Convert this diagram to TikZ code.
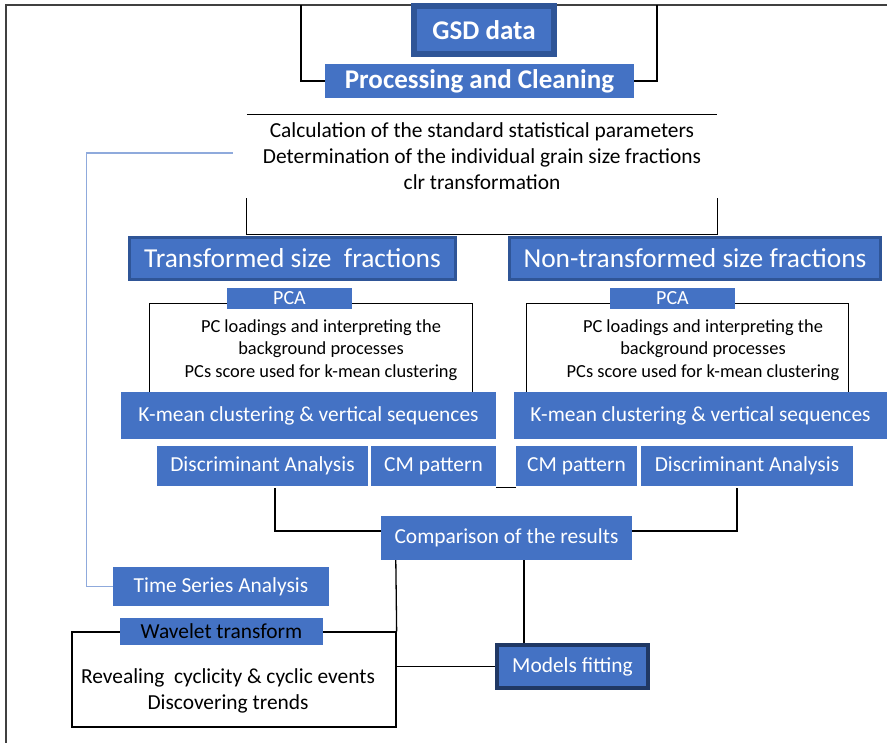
\documentclass[tikz,border=0pt]{standalone}
\usepackage{fontspec}
\setmainfont{Carlito}
\usetikzlibrary{calc}

\definecolor{boxblue}{RGB}{68,114,196}
\definecolor{boxdark}{RGB}{47,85,151}
\definecolor{navy}{RGB}{32,56,100}
\definecolor{paleblue}{RGB}{143,170,220}

\begin{document}
\begin{tikzpicture}[x=1pt,y=-1pt,
    bluebox/.style={fill=boxblue, text=white, inner sep=0pt,
      font=\fontsize{21.4}{25}\selectfont},
    edgebox/.style={bluebox, draw=boxdark, line width=#1},
    plain/.style={align=center, inner sep=0pt, font=\fontsize{21.4}{26}\selectfont},
    small/.style={align=center, inner sep=0pt, font=\fontsize{18.4}{22.5}\selectfont},
    link/.style={line width=1.3pt},
    palelink/.style={line width=1.1pt, draw=paleblue}]
\useasboundingbox (0,0) rectangle (887,743);

% page frame
\draw [line width=2pt, black!75] (6,743) -- (6,5) -- (887,5);
\coordinate (topL) at (301,5);
\coordinate (topR) at (657,5);

% wavelet frame
\node [draw, link, minimum width=324, minimum height=95] (wbox) at (234,679.5) {};
\node [plain] (wtxt) at (228,690.5) {Revealing~ cyclicity \& cyclic events\\Discovering trends};

% top part
\node [edgebox=6pt, minimum width=140, minimum height=48,
       font=\bfseries\fontsize{27}{30}\selectfont] (gsd) at (484,30) {GSD data};
\node [bluebox, minimum width=309, minimum height=34,
       font=\bfseries\fontsize{27}{30}\selectfont] (proc) at (479.5,81) {Processing and Cleaning};
\node [plain, minimum width=470, minimum height=83] (steps) at (482,156.5)
  {Calculation of the standard statistical parameters\\
   Determination of the individual grain size fractions\\
   clr transformation};

% two branches
\node [edgebox=3pt, minimum width=326, minimum height=42,
       font=\fontsize{27.4}{30}\selectfont] (tsf) at (292.5,258.5) {Transformed size~ fractions};
\node [edgebox=3pt, minimum width=371, minimum height=42,
       font=\fontsize{27.4}{30}\selectfont] (ntsf) at (695,258.5) {Non-transformed size fractions};

\node [bluebox, minimum width=125, minimum height=21, font=\fontsize{20}{22}\selectfont]
  (pcaL) at (289.5,298.5) {PCA};
\node [bluebox, minimum width=125, minimum height=21, font=\fontsize{20}{22}\selectfont]
  (pcaR) at (672.5,298.5) {PCA};
\node [small] (pcL) at (321,350) {PC loadings and interpreting the\\background processes\\PCs score used for k-mean clustering};
\node [small] (pcR) at (703,350) {PC loadings and interpreting the\\background processes\\PCs score used for k-mean clustering};

\node [bluebox, minimum width=375, minimum height=47] (kmL) at (308.5,415.5) {K-mean clustering \& vertical sequences};
\node [bluebox, minimum width=373, minimum height=47] (kmR) at (700.5,415.5) {K-mean clustering \& vertical sequences};

\node [bluebox, minimum width=211, minimum height=40] (daL) at (262.5,466) {Discriminant Analysis};
\node [bluebox, minimum width=125, minimum height=40] (cmL) at (433.5,466) {CM pattern};
\node [bluebox, minimum width=121, minimum height=40] (cmR) at (576.5,466) {CM pattern};
\node [bluebox, minimum width=212, minimum height=40] (daR) at (747,466) {Discriminant Analysis};

% lower part
\node [bluebox, minimum width=251, minimum height=44] (comp) at (506.5,538) {Comparison of the results};
\node [bluebox, minimum width=216, minimum height=39] (tsa) at (221,586.5) {Time Series Analysis};
\node [bluebox, text=black, minimum width=203, minimum height=27] (wav) at (221.5,631.5) {Wavelet transform};
\node [edgebox=4pt, draw=navy, minimum width=151, minimum height=43] (mf) at (572.5,666.5) {Models fitting};

% connectors
\draw [link] (proc.west) -| (topL);
\draw [link] (proc.east) -| (topR);
\draw [link] (steps.north west) -- (steps.north east);
\draw [link] (steps.south west) -- ++(0,36) -| (steps.south east);
\draw [palelink] ([xshift=-14pt,yshift=3.5pt]steps.west) -- ++(-146,0) |- (tsa.west);

\draw [link] ([yshift=-5pt]pcaL.west) -| ([xshift=29pt]kmL.north west);
\draw [link] ([yshift=-5pt]pcaL.east) -| ([xshift=-24pt]kmL.north east);
\draw [link] ([yshift=-5pt]pcaR.west) -| ([xshift=13pt]kmR.north west);
\draw [link] ([yshift=-5pt]pcaR.east) -| ([xshift=-39pt]kmR.north east);

\draw [link] ([yshift=-1pt]cmL.south east) -- ([yshift=-1pt]cmR.south west);
\draw [link] ([xshift=12.5pt,yshift=-2pt]daL.south) |- ([yshift=7pt]comp.west);
\draw [link] ([xshift=-10pt,yshift=-2pt]daR.south) |- ([yshift=7pt]comp.east);

\draw [link] ([xshift=15pt]comp.south west) -- (wbox.north east);
\coordinate (cdown) at ([xshift=17.5pt]comp.south);
\draw [link] (cdown) -- (cdown |- mf.north);
\draw [link] (mf.west -| wbox.east) -- (mf.west);
\end{tikzpicture}
\end{document}
